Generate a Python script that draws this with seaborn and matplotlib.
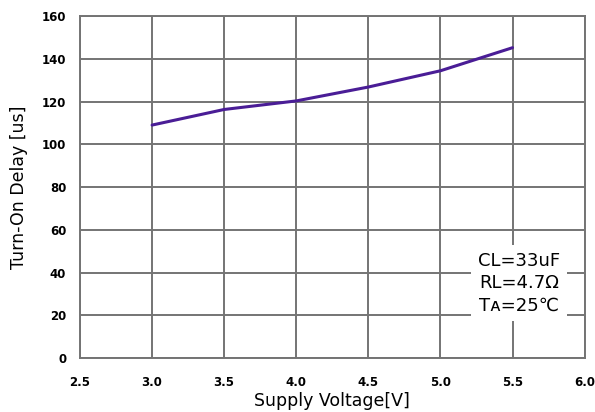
import pandas as pd
import numpy as np
import matplotlib.pyplot as plt
import matplotlib.transforms as mtransforms
import seaborn as sns

# values
voltage = [3.0, 3.5, 4.0, 4.5, 5.0, 5.5]
delay = [109.0, 116.3, 120.3, 126.8, 134.4, 145.2]

x_ticks = [2.5, 3.0, 3.5, 4.0, 4.5, 5.0, 5.5, 6.0]
y_ticks = [0, 20, 40, 60, 80, 100, 120, 140, 160]

df = pd.DataFrame({'voltage': voltage, 'delay': delay})

sns.set_style('white')
plt.rcParams['font.family'] = ['DejaVu Sans']

fig = plt.figure(figsize=(5.95, 4.12), dpi=100)
ax = fig.add_axes([0.1345, 0.131, 0.848, 0.830])

sns.lineplot(data=df, x='voltage', y='delay', ax=ax, color='#4a1d96', linewidth=2.2)

ax.set_xlim(2.5, 6.0)
ax.set_ylim(0, 160)
ax.set_xticks(x_ticks)
ax.set_yticks(y_ticks)
ax.set_xticklabels([f'{v:.1f}' for v in x_ticks], fontsize=8.5, fontweight='bold', color='black')
ax.set_yticklabels([str(v) for v in y_ticks], fontsize=8.5, fontweight='bold', color='black')

# keep the last x label inside the figure
last = ax.get_xticklabels()[-1]
last.set_transform(last.get_transform() + mtransforms.ScaledTranslation(-3 / 100, 0, fig.dpi_scale_trans))

ax.grid(True, color='#747474', linewidth=1.4)
ax.set_axisbelow(True)
for s in ax.spines.values():
    s.set_color('#747474')
    s.set_linewidth(1.4)
ax.tick_params(axis='both', direction='out', length=5, width=1.4, color='#747474')
ax.tick_params(axis='x', pad=8)
ax.tick_params(axis='y', pad=5)

ax.set_xlabel('Supply Voltage[V]', fontsize=12.5, labelpad=2, color='black')
ax.set_ylabel('Turn-On Delay [us]', fontsize=12.5, labelpad=10, color='black')

# condition box
ax.text(5.545, 35, 'CL=33uF\nRL=4.7Ω\nTᴀ=25℃', fontsize=13, ha='center', va='center',
        linespacing=1.3, color='black',
        bbox=dict(facecolor='white', edgecolor='none', pad=5))

fig.savefig('out.png', dpi=100)
